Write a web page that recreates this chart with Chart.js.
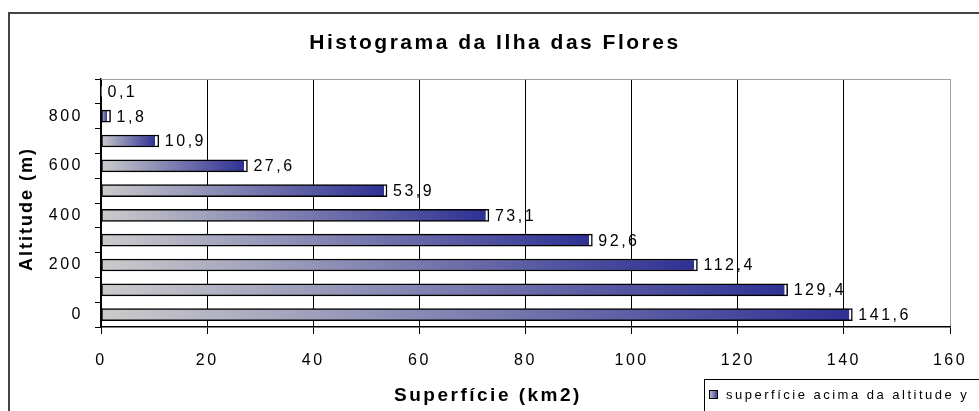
<!DOCTYPE html>
<html>
<head>
<meta charset="utf-8">
<script src="https://cdn.jsdelivr.net/npm/chart.js@4/dist/chart.umd.min.js"></script>
<style>
    html, body { margin: 0; padding: 0; background: #fff; overflow: hidden; }
    #frame { position: absolute; left: 8px; top: 12px; width: 1000px; height: 420px;
             border-left: 2px solid #444; border-top: 2px solid #444; }
    #wrap { position: absolute; left: 0; top: 0; width: 979px; height: 411px; }
</style>
</head>
<body>
<div id="frame"></div>
<div id="wrap"><canvas id="histChart" width="979" height="411"></canvas></div>
<script>
// altitude (m) de cada faixa e superfície acima dessa altitude (km2)
const altitudes = [0, 100, 200, 300, 400, 500, 600, 700, 800, 900];
const superficie = [141.6, 129.4, 112.4, 92.6, 73.1, 53.9, 27.6, 10.9, 1.8, 0.1];
const xMin = 0;
const xMax = 160;
const xStep = 20;

const chartTitle = 'Histograma da Ilha das Flores';
const xTitle = 'Superfície (km2)';
const yTitle = 'Altitude (m)';
const legendLabel = 'superfície acima da altitude y';

const FONT = "'Liberation Sans', Arial, sans-serif";

// degradê cinza -> azul em cada barra, com uma tira branca no fim
function barGradient(context) {
    const chart = context.chart;
    if (!chart.chartArea || context.type !== 'data') return '#333399';
    const xs = chart.scales.x;
    const x0 = xs.getPixelForValue(0);
    const x1 = xs.getPixelForValue(context.raw);
    const len = Math.max(x1 - x0, 1);
    const g = chart.ctx.createLinearGradient(x0, 0, x1, 0);
    const cut = Math.max(0, (len - 3.5) / len);
    g.addColorStop(0, '#cbcbcb');
    g.addColorStop(cut, '#2f3194');
    g.addColorStop(Math.min(1, cut + 0.001), '#ffffff');
    g.addColorStop(1, '#ffffff');
    return g;
}

const textPlugin = {
    id: 'textPlugin',
    beforeUpdate(chart) {
        chart.ctx.letterSpacing = '2.5px';
    },
    afterDraw(chart) {
        const ctx = chart.ctx;
        const area = chart.chartArea;
        ctx.save();

        // borda superior do plano
        ctx.strokeStyle = '#a0a0a0';
        ctx.lineWidth = 1;
        ctx.beginPath();
        ctx.moveTo(area.left, area.top + 0.5);
        ctx.lineTo(area.right, area.top + 0.5);
        ctx.stroke();

        // rótulos dos valores
        const meta = chart.getDatasetMeta(0);
        ctx.fillStyle = '#000';
        ctx.font = '16px ' + FONT;
        ctx.letterSpacing = '2.5px';
        ctx.textAlign = 'left';
        ctx.textBaseline = 'middle';
        meta.data.forEach((bar, i) => {
            const txt = String(superficie[i]).replace('.', ',');
            ctx.fillText(txt, bar.x + 6, bar.y + 1);
        });

        // título
        ctx.font = 'bold 21px ' + FONT;
        ctx.letterSpacing = '2.5px';
        ctx.textAlign = 'center';
        ctx.fillText(chartTitle, 495, 43);

        // título eixo x
        ctx.font = 'bold 19px ' + FONT;
        ctx.letterSpacing = '2.5px';
        ctx.fillText(xTitle, 488, 396);

        // título eixo y
        ctx.save();
        ctx.translate(27, 209);
        ctx.rotate(-Math.PI / 2);
        ctx.font = 'bold 18px ' + FONT;
        ctx.letterSpacing = '2px';
        ctx.fillText(yTitle, 0, 0);
        ctx.restore();

        // legenda (cortada na borda)
        ctx.strokeStyle = '#000';
        ctx.lineWidth = 1;
        ctx.strokeRect(704.5, 379.5, 400, 60);
        const sw = ctx.createLinearGradient(709, 0, 718, 0);
        sw.addColorStop(0, '#cbcbcb');
        sw.addColorStop(1, '#2f3194');
        ctx.fillStyle = sw;
        ctx.fillRect(709, 390, 8, 8);
        ctx.strokeRect(709.5, 390.5, 8, 8);
        ctx.fillStyle = '#000';
        ctx.font = '13px ' + FONT;
        ctx.letterSpacing = '2.5px';
        ctx.textAlign = 'left';
        ctx.fillText(legendLabel, 726, 395);

        ctx.restore();
    }
};

const ctx = document.getElementById('histChart').getContext('2d');

new Chart(ctx, {
    type: 'bar',
    data: {
        labels: altitudes,
        datasets: [{
            label: legendLabel,
            data: superficie,
            backgroundColor: barGradient,
            borderColor: '#000',
            borderWidth: 1.5,
            borderSkipped: false,
            barThickness: 12
        }]
    },
    options: {
        indexAxis: 'y',
        responsive: false,
        animation: false,
        layout: {
            padding: { left: 0, top: 79, right: 29, bottom: 0 }
        },
        scales: {
            x: {
                min: xMin,
                max: xMax,
                afterFit: (scale) => {
                    scale.height = 84;
                    scale.paddingLeft = 0;
                    scale.paddingRight = 0;
                },
                ticks: {
                    stepSize: xStep,
                    color: '#000',
                    padding: 17,
                    font: { family: FONT, size: 16 }
                },
                grid: {
                    color: (c) => (c.tick && c.tick.value === xMax ? '#a0a0a0' : '#000'),
                    tickColor: '#000',
                    tickLength: 7
                },
                border: { color: '#000', width: 1.5 }
            },
            y: {
                reverse: true,
                afterFit: (scale) => {
                    scale.width = 101;
                    scale.paddingTop = 0;
                    scale.paddingBottom = 0;
                },
                ticks: {
                    autoSkip: false,
                    color: '#000',
                    padding: 12,
                    font: { family: FONT, size: 16 },
                    callback: function (value, index) {
                        const alt = altitudes[index];
                        return alt % 200 === 0 ? String(alt) : '';
                    }
                },
                grid: {
                    drawOnChartArea: false,
                    color: '#000',
                    tickLength: 6
                },
                border: { color: '#000', width: 1.5 }
            }
        },
        plugins: {
            legend: { display: false },
            title: { display: false },
            tooltip: { enabled: false }
        }
    },
    plugins: [textPlugin]
});
</script>
</body>
</html>
